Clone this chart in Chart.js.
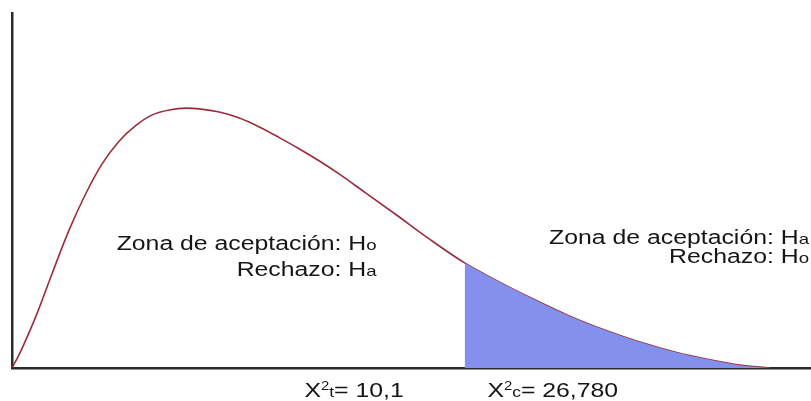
<!DOCTYPE html>
<html>
<head>
<meta charset="utf-8">
<script src="https://cdn.jsdelivr.net/npm/chart.js@4.4.1/dist/chart.umd.min.js"></script>
<style>
  html, body { margin: 0; padding: 0; background: #fff; }
</style>
</head>
<body>
<canvas id="chart" width="811" height="401"></canvas>
<script>
// curve (x in chi-square-like units, y in % of plot height)
const curveX = [0, 0.35, 1.2, 2.0, 2.86, 3.71, 4.51, 5.36, 6.22, 7.02, 7.87, 8.72, 9.37, 10.38, 11.38, 12.38, 13.38, 14.39, 15.39, 16.39, 17.54, 19.25, 20.9, 22.66, 24.41, 26.17, 27.92, 29.67, 31.43, 33.18, 34.94, 36.44, 37.94];
const curveY = [0, 3.7, 14.6, 26.5, 38.9, 49.3, 57.5, 63.9, 68.4, 71.3, 72.7, 73.2, 73.0, 72.1, 70.4, 67.9, 64.9, 61.7, 58.3, 54.6, 50.0, 43.1, 36.3, 29.6, 24.2, 19.2, 14.6, 10.7, 7.3, 4.5, 2.3, 0.8, 0];
const shadeFrom = 22.66;

// text labels: [text, subscript]
const zoneLeft = [["Zona de aceptación: H", "o"], ["Rechazo: H", "a"]];
const zoneRight = [["Zona de aceptación: H", "a"], ["Rechazo: H", "o"]];
const statLabels = [["t", "= 10,1"], ["c", "= 26,780"]];
const statLabelX = [14.64, 23.8];

const FONT = '"Liberation Sans", Arial, sans-serif';
const STRETCH = 1.24;

const points = curveX.map((x, i) => ({ x: x, y: curveY[i] }));
const shadePoints = points.filter(p => p.x >= shadeFrom);

function drawRich(ctx, parts, x, y, align) {
  let w = 0;
  parts.forEach(p => {
    ctx.font = p[1] + "px " + FONT;
    w += ctx.measureText(p[0]).width;
  });
  ctx.save();
  ctx.translate(x, y);
  ctx.scale(STRETCH, 1);
  ctx.fillStyle = "#151515";
  ctx.textBaseline = "alphabetic";
  let cx = align === "right" ? -w : 0;
  parts.forEach(p => {
    ctx.font = p[1] + "px " + FONT;
    ctx.fillText(p[0], cx, p[2]);
    cx += ctx.measureText(p[0]).width;
  });
  ctx.restore();
}

const textPlugin = {
  id: "texts",
  afterDraw(chart) {
    const ctx = chart.ctx;
    const xs = chart.scales.x, ys = chart.scales.y;
    // zone labels
    const leftX = xs.getPixelForValue(18.25);
    drawRich(ctx, [[zoneLeft[0][0], 20, 0], [zoneLeft[0][1], 15, 0]], leftX, ys.getPixelForValue(33.2), "right");
    drawRich(ctx, [[zoneLeft[1][0], 20, 0], [zoneLeft[1][1], 15, 0]], leftX, ys.getPixelForValue(25.9), "right");
    const rightX = xs.getPixelForValue(39.9);
    drawRich(ctx, [[zoneRight[0][0], 20, 0], [zoneRight[0][1], 15, 0]], rightX, ys.getPixelForValue(34.9), "right");
    drawRich(ctx, [[zoneRight[1][0], 20, 0], [zoneRight[1][1], 15, 0]], rightX, ys.getPixelForValue(29.6), "right");
    // statistic labels under the axis
    const base = chart.chartArea.bottom + 29;
    statLabels.forEach((s, i) => {
      drawRich(ctx, [["X", 20, 0], ["2", 12, -7], [s[0], 14, 0], [s[1], 20, 0]],
        xs.getPixelForValue(statLabelX[i]), base, "left");
    });
  }
};

new Chart(document.getElementById("chart"), {
  type: "line",
  data: {
    datasets: [
      {
        data: shadePoints,
        borderWidth: 0,
        pointRadius: 0,
        fill: "origin",
        backgroundColor: "#8391ec",
        cubicInterpolationMode: "monotone",
      },
      {
        data: points,
        borderColor: "#9b2c3c",
        borderWidth: 1.6,
        pointRadius: 0,
        fill: false,
        cubicInterpolationMode: "monotone",
      },
    ],
  },
  options: {
    responsive: false,
    animation: false,
    layout: { padding: { left: 12, top: 13, right: 0, bottom: 33 } },
    plugins: {
      legend: { display: false },
      tooltip: { enabled: false },
    },
    scales: {
      x: {
        type: "linear",
        min: 0,
        max: 40,
        grid: { display: false, drawTicks: false },
        ticks: { display: false },
        border: { display: true, color: "#2b2b2b", width: 2.5 },
      },
      y: {
        min: 0,
        max: 100,
        grid: { display: false, drawTicks: false },
        ticks: { display: false },
        border: { display: true, color: "#2b2b2b", width: 2.5 },
      },
    },
  },
  plugins: [textPlugin],
});
</script>
</body>
</html>
